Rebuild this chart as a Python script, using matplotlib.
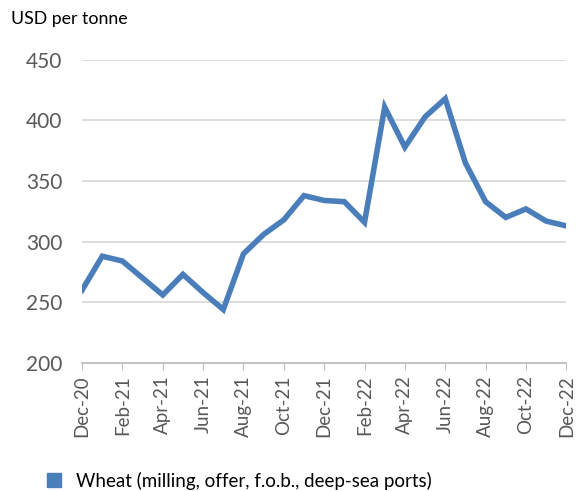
import matplotlib.pyplot as plt
from matplotlib.patches import Rectangle

# monthly wheat prices, Dec-20 .. Dec-22
months = ["Dec-20", "Jan-21", "Feb-21", "Mar-21", "Apr-21", "May-21", "Jun-21",
          "Jul-21", "Aug-21", "Sep-21", "Oct-21", "Nov-21", "Dec-21", "Jan-22",
          "Feb-22", "Mar-22", "Apr-22", "May-22", "Jun-22", "Jul-22", "Aug-22",
          "Sep-22", "Oct-22", "Nov-22", "Dec-22"]
wheat = [260, 288, 284, 270, 256, 273, 258, 244, 290, 306, 318, 338, 334, 333,
         316, 411, 378, 403, 418, 365, 333, 320, 327, 317, 313]
yticks = [200, 250, 300, 350, 400, 450]

plt.rcParams['font.family'] = ['Lato', 'DejaVu Sans']

fig = plt.figure(figsize=(5.82, 4.91), dpi=100)
ax = fig.add_axes([0.141, 0.261, 0.832, 0.617])

x = list(range(len(months)))
ax.plot(x, wheat, color='#4a7ebb', lw=4, solid_joinstyle='miter', zorder=3)

ax.set_xlim(0, len(months) - 1)
ax.set_ylim(200, 450)
ax.set_yticks(yticks)
ax.set_yticklabels([str(v) for v in yticks], fontsize=15, color='#595959')
ax.set_xticks(x[::2])
ax.set_xticklabels(months[::2], rotation=90, fontsize=13.5, color='#595959')
ax.tick_params(axis='y', length=0, pad=14)
ax.tick_params(axis='x', length=5, color='#bfbfbf', pad=4)

ax.grid(axis='y', color='#d9d9d9', lw=1.3)
for s in ['top', 'right', 'left']:
    ax.spines[s].set_visible(False)
ax.spines['bottom'].set_color('#bfbfbf')
ax.spines['bottom'].set_linewidth(1.3)
ax.set_axisbelow(True)

fig.text(0.019, 0.962, "USD per tonne", fontsize=12.8, color='black', va='center')

# legend
fig.patches.append(Rectangle((0.081, 0.008), 0.024, 0.028, transform=fig.transFigure,
                             color='#4a7ebb'))
fig.text(0.131, 0.021, "Wheat (milling, offer, f.o.b., deep-sea ports)",
         fontsize=13.5, color='black', va='center')

fig.savefig("out.png", dpi=100)
